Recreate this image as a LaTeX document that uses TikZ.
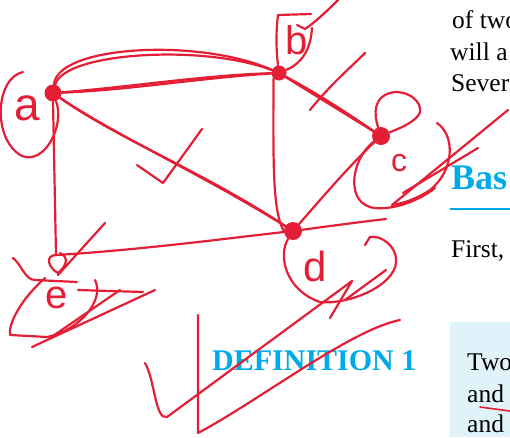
\documentclass[tikz,border=0pt]{standalone}
\usepackage{fontspec}
\setmainfont{Liberation Serif}
\newfontfamily\handfont{Liberation Sans}
\definecolor{penred}{RGB}{228,30,52}
\definecolor{headblue}{RGB}{0,170,232}
\definecolor{boxblue}{RGB}{224,242,250}
\begin{document}
\begin{tikzpicture}[x=1pt,y=-1pt,line cap=round,line join=round,
    ink/.style={draw=penred,line width=2.2pt},
    blob/.style={circle,fill=penred,inner sep=0pt,minimum size=#1},
    letter/.style={text=penred,inner sep=0pt,font=\handfont\fontsize{#1}{#1}\selectfont},
    book/.style={anchor=base west,inner sep=0pt,font=\fontsize{25.5}{30}\selectfont},
    head/.style={anchor=base west,inner sep=0pt,text=headblue,font=\bfseries\fontsize{#1}{#1}\selectfont}]
    \useasboundingbox (0,0) rectangle (510,437);
    \clip (0,0) rectangle (510,437);
    \fill[boxblue] (450,322) rectangle (510,437);
    \node[book] (of) at (452,28) {of two};
    \node[book] (will) at (450,60) {will a};
    \node[book] (sev) at (451,91) {Sever};
    \node[head=36] (bas) at (451,189) {Bas};
    \draw[headblue,line width=2.5pt,line cap=butt] (450,209) -- (510,209);
    \node[book] (first) at (451,257) {First,};
    \node[head=30] (def) at (212,370) {DEFINITION 1};
    \node[book] (two) at (467,370) {Two};
    \node[book] (and1) at (467,402) {and};
    \node[book] (and2) at (467,432) {and};
    \node[blob=17pt] (a) at (53,93) {};
    \node[blob=15pt] (b) at (279,73) {};
    \node[blob=18pt] (c) at (381,136) {};
    \node[blob=18pt] (d) at (293,231) {};
    \coordinate (e) at (56,255);
    \coordinate (dtail) at (386,219);
    \draw[ink] (a) .. controls (58,45) and (200,38) .. (b);
    \draw[ink] (a) .. controls (64,52) and (205,44) .. (b);
    \draw[ink] (a) .. controls (130,90) and (200,78) .. (b);
    \draw[ink] (a) .. controls (130,87) and (205,75) .. (b);
    \draw[ink] (a) .. controls (120,140) and (200,170) .. (d);
    \draw[ink] (a) .. controls (115,135) and (205,176) .. (d);
    \draw[ink] (a.south) -- (e);
    \draw[ink] (b.south west) .. controls (273,170) and (273,212) .. (d.west);
    \draw[ink] (b) -- (c);
    \draw[ink] (b) .. controls (320,95) and (350,115) .. (c);
    \draw[ink] (c) .. controls (350,165) and (320,200) .. (d);
    \draw[ink] (e) .. controls (140,250) and (230,238) .. (d)
      .. controls (330,226) and (360,222) .. (dtail);
    \draw[ink] (23,72) .. controls (-5,78) and (-8,140) .. (22,156)
      .. controls (45,165) and (65,125) .. (a);
    \draw[ink] (b) .. controls (276,50) and (276,30) .. (278,15) -- (311,14);
    \draw[ink] (312,28) .. controls (311,45) and (305,62) .. (b);
    \draw[ink] (297,25) -- (305,29) .. controls (318,20) and (330,8) .. (338,0);
    \draw[ink] (c) .. controls (374,115) and (372,95) .. (395,92)
      .. controls (415,92) and (425,108) .. (418,116)
      .. controls (410,125) and (395,130) .. (c);
    \draw[ink] (c) .. controls (350,160) and (345,205) .. (375,208)
      .. controls (395,210) and (420,200) .. (435,188);
    \draw[ink] (437,123) .. controls (455,135) and (455,170) .. (430,190)
      .. controls (415,200) and (400,204) .. (392,205);
    \draw[ink] (508,110) -- (392,205);
    \draw[ink] (478,148) -- (403,193);
    \draw[ink] (d) .. controls (278,255) and (285,290) .. (320,302)
      .. controls (350,305) and (395,285) .. (396,262)
      .. controls (397,245) and (380,235) .. (370,237) -- (365,245);
    \draw[ink] (e) .. controls (45,255) and (48,268) .. (58,273)
      .. controls (66,266) and (70,258) .. (60,253);
    \node[letter=46pt] (la) at (27,108) {a};
    \node[letter=40pt] (lb) at (297,40) {b};
    \node[letter=32pt] (lc) at (399,163) {c};
    \node[letter=42pt] (ld) at (315,266) {d};
    \node[letter=40pt] (le) at (57,298) {e};
    \draw[ink] (137,165) -- (163,183) -- (202,129);
    \draw[ink] (310,110) .. controls (330,85) and (350,68) .. (365,53);
    \draw[ink] (105,223) -- (58,275);
    \draw[ink] (13,258) .. controls (22,265) and (25,280) .. (35,280) -- (77,282);
    \draw[ink] (45,278) .. controls (20,300) and (8,325) .. (10,335) -- (47,337)
      .. controls (80,330) and (105,300) .. (95,280);
    \draw[ink] (78,290) -- (143,292);
    \draw[ink] (32,347) -- (155,290);
    \draw[ink] (50,338) -- (120,290);
    \draw[ink] (145,363) .. controls (155,380) and (155,420) .. (167,417) -- (352,281) -- (330,318);
    \draw[ink] (386,270) -- (345,300);
    \draw[ink] (198,315) -- (198,433) .. controls (260,400) and (350,330) .. (400,320);
    \draw[penred,line width=1.6pt] (480,407) -- (510,411);
  \end{tikzpicture}
\end{document}
